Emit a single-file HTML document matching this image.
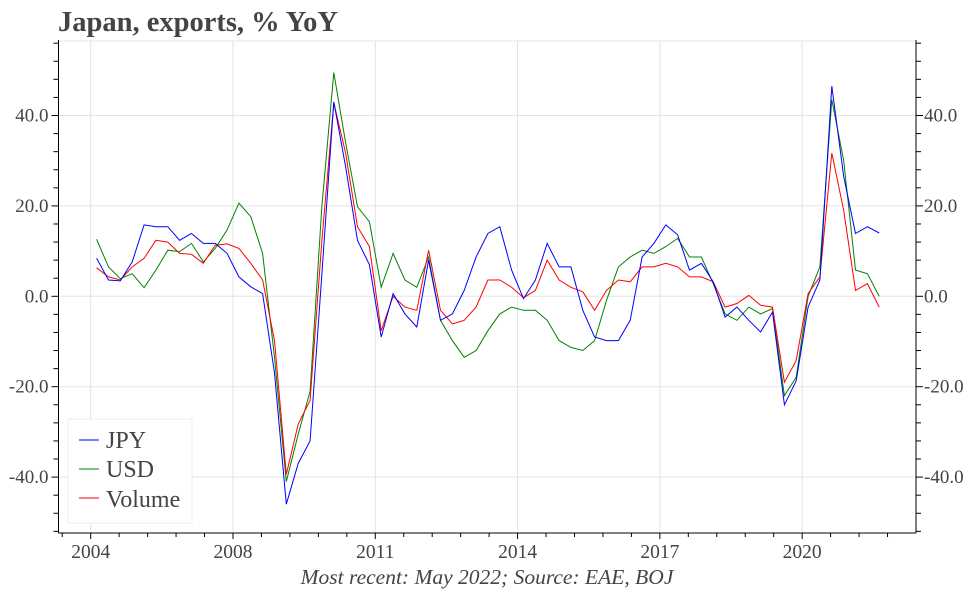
<!DOCTYPE html>
<html><head><meta charset="utf-8"><style>
body{margin:0;background:#fff;}
svg text{font-family:"Liberation Serif",serif;fill:#444;}
</style></head><body>
<svg id="chart" width="972" height="589" xmlns="http://www.w3.org/2000/svg">
<text x="58" y="31" font-size="28.5" font-weight="bold">Japan, exports, % YoY</text>
<g id="grid"></g>
<g id="axes"></g>
<g id="series"></g>
<g>
<rect x="68" y="419" width="124" height="104" fill="#fff" stroke="#eee"/>
<line x1="79" y1="440" x2="99" y2="440" stroke="blue"/>
<text x="106" y="448" font-size="24">JPY</text>
<line x1="79" y1="469" x2="99" y2="469" stroke="green"/>
<text x="106" y="477" font-size="24">USD</text>
<line x1="79" y1="498" x2="99" y2="498" stroke="red"/>
<text x="106" y="507" font-size="24">Volume</text>
</g>
<text x="487" y="584" font-size="21.5" font-style="italic" text-anchor="middle">Most recent: May 2022; Source: EAE, BOJ</text>
</svg>
<script>
const xTickValues=[2005,2008,2011,2014,2017,2020];
const xTickLabels=["2004","2008","2011","2014","2017","2020"];
const yTickValues=[-40,-20,0,20,40];
const yTickLabels=["-40.0","-20.0","0.0","20.0","40.0"];
const jpy=[8.4,3.6,3.4,7.6,15.8,15.4,15.4,12.4,13.9,11.7,11.7,9.5,4.3,2.1,0.6,-17,-46,-37,-32,5,43,28.7,12.4,7,-9,0.6,-3.9,-6.8,8,-5.3,-3.9,1.3,8.7,13.9,15.4,5.8,-0.5,3.6,11.7,6.5,6.5,-3.1,-9,-9.8,-9.8,-5.3,8.7,11.7,15.8,13.6,5.8,7.3,3.2,-4.6,-2.4,-5.3,-7.9,-3.5,-24,-18.7,-2.4,3.6,46.5,26.5,13.9,15.4,14];
const usd=[12.6,6.5,3.9,5,1.9,5.8,10.2,9.9,11.7,7.6,10.6,14.7,20.6,17.6,9.5,-13.5,-41,-30.5,-21,20,49.5,34,19.8,16.5,2,9.5,3.6,2,8.7,-5.3,-9.8,-13.5,-12,-7.6,-3.9,-2.4,-3.1,-3.1,-5.3,-9.8,-11.3,-12,-9.8,-0.9,6.5,8.7,10.2,9.5,11,12.8,8.7,8.7,2.8,-3.9,-5.3,-2.4,-3.9,-2.7,-22,-17.9,0,6.5,43.5,30,5.8,5,0];
const volume=[6.3,4.3,3.6,6.5,8.4,12.4,12,9.5,9.3,7.3,11.3,11.6,10.6,7.3,3.6,-9.8,-39.4,-28.3,-23,12.4,42.8,31.7,15.4,11,-7.6,0,-2.4,-3.1,10.2,-3.1,-6.1,-5.3,-2.4,3.6,3.6,2,-0.3,1.3,8,3.6,2,1,-3.1,1.3,3.6,3.2,6.5,6.5,7.3,6.5,4.3,4.3,3.2,-2.4,-1.6,0.2,-2,-2.4,-19,-14.2,0.6,4.3,31.7,19,1.3,2.8,-2.4];
const startYear=2005.125, step=0.25;
const NS="http://www.w3.org/2000/svg";
const L=58.5,R=916,T=41,B=533;
function xs(d){return 90.7+(d-2005)*47.43;}
function ys(v){return 296.3-v*4.52;}
function mk(tag,attrs,parent){const e=document.createElementNS(NS,tag);for(const k in attrs)e.setAttribute(k,attrs[k]);parent.appendChild(e);return e;}
const grid=document.getElementById('grid'),axes=document.getElementById('axes'),ser=document.getElementById('series');
mk('line',{x1:L,y1:T,x2:R,y2:T,stroke:'#e3e3e3'},grid);
xTickValues.forEach(v=>{const l=mk('line',{x1:xs(v),y1:T,x2:xs(v),y2:B,stroke:'#e3e3e3'},grid);

});
yTickValues.forEach(v=>{const l=mk('line',{x1:L,y1:ys(v),x2:R,y2:ys(v),stroke:'#e3e3e3'},grid);

});
mk('line',{x1:L,y1:T-1,x2:L,y2:B,stroke:'#000'},axes);
mk('line',{x1:R,y1:T-1,x2:R,y2:B,stroke:'#000'},axes);
mk('line',{x1:L,y1:B,x2:R,y2:B,stroke:'#000'},axes);
for(let v=-52;v<=56;v+=4){const major=v%20===0;const y=ys(v);
mk('line',{x1:L-(major?7:5),y1:y,x2:L,y2:y,stroke:'#000'},axes);
mk('line',{x1:R,y1:y,x2:R+(major?7:5),y2:y,stroke:'#000'},axes);}
yTickValues.forEach((v,i)=>{
const a=mk('text',{x:L-10,y:ys(v)+6,'font-size':19,'text-anchor':'end'},axes);a.textContent=yTickLabels[i];


const b=mk('text',{x:R+8,y:ys(v)+6,'font-size':19},axes);b.textContent=yTickLabels[i];

});
for(let d=2004.4;d<2023;d+=0.6){const x=xs(d);if(x<L+1||x>R-1)continue;const major=Math.abs(((d-2005)/3)-Math.round((d-2005)/3))<0.01;
mk('line',{x1:x,y1:B,x2:x,y2:B+(major?6:4),stroke:'#000'},axes);}
xTickValues.forEach((v,i)=>{const t=mk('text',{x:xs(v),y:B+25,'font-size':19.5,'text-anchor':'middle'},axes);t.textContent=xTickLabels[i];

});
function line(vals,color,name){const pts=vals.map((v,i)=>xs(startYear+i*step).toFixed(1)+','+ys(v).toFixed(1)).join(' ');
const p=mk('polyline',{points:pts,fill:'none',stroke:color,'stroke-width':1},ser);

}
line(usd,'green','usd-line');
line(volume,'red','volume-line');
line(jpy,'blue','jpy-line');
</script>
</body></html>
